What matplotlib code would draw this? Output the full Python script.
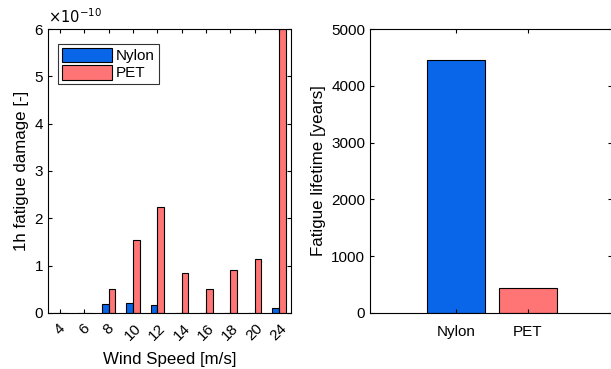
import numpy as np
from matplotlib import pyplot as plt

plt.rcParams['font.family'] = ['Liberation Sans', 'DejaVu Sans']

# ======================================================================================================================

wind_speeds = ['4', '6', '8', '10', '12', '14', '16', '18', '20', '24']
damage_nylon = [0.01, 0.01, 0.18, 0.22, 0.16, 0.005, 0.005, 0.005, 0.01, 0.11]   # x 1e-10
damage_pet = [0.005, 0.01, 0.51, 1.54, 2.24, 0.85, 0.51, 0.90, 1.15, 6.0]       # x 1e-10

materials = ['Nylon', 'PET']
lifetime = [4450, 435]

BLUE = '#0a66e8'
RED = '#ff7575'


def main():
    fig = plt.figure(figsize=(6.11, 3.69), dpi=100)

    # ---- left panel: 1h fatigue damage per wind speed
    ax1 = fig.add_axes([0.0786, 0.1518, 0.3977, 0.7696])
    x = np.arange(1, len(wind_speeds) + 1)
    ax1.bar(x - 0.14, damage_nylon, 0.27, color=BLUE, edgecolor='black', linewidth=0.8, label='Nylon')
    ax1.bar(x + 0.14, damage_pet, 0.27, color=RED, edgecolor='black', linewidth=0.8, label='PET')
    ax1.set_xlim(0.5, 10.5)
    ax1.set_ylim(0, 6)
    ax1.set_xticks(x)
    ax1.set_xticklabels(wind_speeds, rotation=45, ha='center')
    ax1.set_yticks(range(0, 7))
    ax1.tick_params(direction='in', top=True, right=True, labelsize=11, length=3)
    ax1.tick_params(axis='x', pad=6)
    ax1.set_xlabel('Wind Speed [m/s]', fontsize=12.2, labelpad=6)
    ax1.set_ylabel('1h fatigue damage [-]', fontsize=12.2)
    ax1.text(0.0, 1.012, r'$\times10^{-10}$', transform=ax1.transAxes, fontsize=10.5, va='bottom')
    leg = ax1.legend(loc='upper left', fontsize=11, fancybox=False, edgecolor='black',
                     handlelength=3.3, handleheight=1.1, borderpad=0.25, labelspacing=0.12,
                     handletextpad=0.25, bbox_to_anchor=(0.01, 0.975))
    leg.get_frame().set_linewidth(0.8)

    # ---- right panel: fatigue lifetime
    ax2 = fig.add_axes([0.6056, 0.1518, 0.3960, 0.7696])
    xm = np.arange(1, len(materials) + 1)
    ax2.bar(xm, lifetime, 0.8, color=[BLUE, RED], edgecolor='black', linewidth=0.8)
    ax2.set_xlim(-0.19, 3.17)
    ax2.set_ylim(0, 5000)
    ax2.set_xticks(xm)
    ax2.set_xticklabels(materials)
    ax2.set_yticks(range(0, 5001, 1000))
    ax2.tick_params(direction='in', top=True, right=True, labelsize=11, length=3)
    ax2.tick_params(axis='x', pad=9)
    ax2.set_ylabel('Fatigue lifetime [years]', fontsize=12.2)

    fig.savefig('out.png', dpi=100)


if __name__ == "__main__":
    main()
